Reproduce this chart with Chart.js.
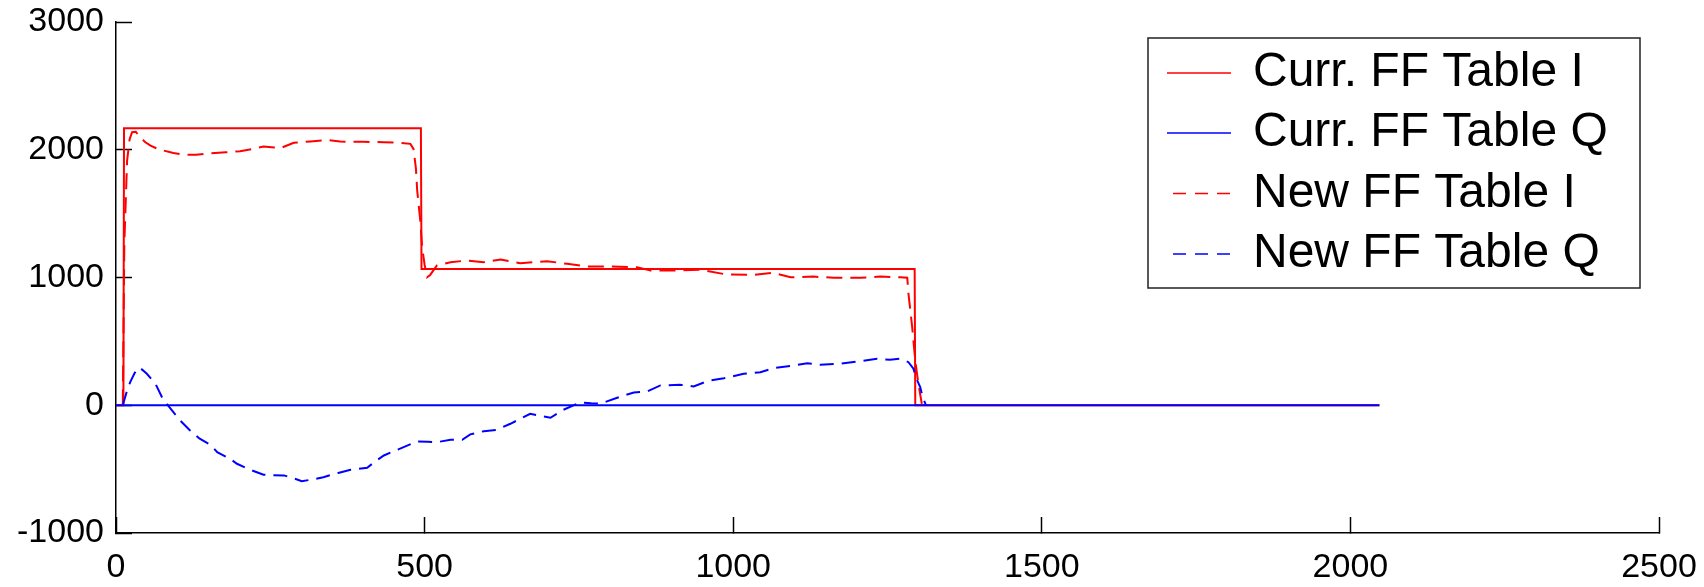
<!DOCTYPE html>
<html>
<head>
<meta charset="utf-8">
<title>FF Table</title>
<script src="https://cdn.jsdelivr.net/npm/chart.js@4.4.1/dist/chart.umd.min.js"></script>
<style>
  html, body { margin: 0; padding: 0; background: #fff; }
  #wrap { width: 1704px; height: 587px; }
</style>
</head>
<body>
<div id="wrap"><canvas id="ffChart"></canvas></div>
<script>
// tick labels
const xTicks = [0, 500, 1000, 1500, 2000, 2500];
const yTicks = [-1000, 0, 1000, 2000, 3000];

const seriesLabels = ["Curr. FF Table I", "Curr. FF Table Q", "New FF Table I", "New FF Table Q"];

// Curr. FF Table I (solid red)
const currIX = [0, 12, 13, 494, 495, 1294, 1295, 2047];
const currIY = [0, 0, 2168, 2168, 1066, 1066, 0, 0];

// Curr. FF Table Q (solid blue)
const currQX = [0, 2047];
const currQY = [0, 0];

// New FF Table I (dashed red)
const newIX = [11, 13.5, 18, 22, 26, 32, 39, 47, 56, 66, 77, 93, 110, 130, 153, 178, 201, 220, 239, 252,
  266, 288, 315, 342, 363, 400, 434, 460, 477, 482, 486, 488, 493, 496, 500, 504, 509, 520, 542, 569,
  596, 623, 655, 698, 731, 763, 801, 844, 866, 903, 947, 990, 1033, 1065, 1093, 1130, 1163, 1206, 1238,
  1271, 1282, 1284, 1290, 1295, 1300, 1306, 1310];
const newIY = [0, 1266, 1915, 2080, 2137, 2140, 2103, 2060, 2033, 2010, 1994, 1975, 1962, 1960, 1973, 1980, 1988, 2005, 2025, 2020,
  2012, 2054, 2065, 2077, 2064, 2062, 2059, 2055, 2046, 2007, 1850, 1681, 1446, 1237, 1100, 1002, 1020, 1094, 1120, 1133,
  1120, 1141, 1112, 1128, 1107, 1086, 1086, 1081, 1055, 1055, 1060, 1023, 1020, 1037, 1002, 1007, 998, 998, 1007,
  1002, 998, 872, 611, 350, 168, 0, 0];

// New FF Table Q (dashed blue)
const newQX = [11, 17, 23, 30, 35, 42, 50, 64, 77, 82, 93, 104, 120, 135, 153, 164, 185, 196, 215, 239,
  255, 272, 290, 301, 320, 336, 360, 380, 407, 420, 434, 450, 466, 488, 505, 520, 542, 561, 574, 596,
  617, 639, 671, 704, 725, 752, 770, 785, 812, 839, 860, 882, 914, 936, 958, 985, 1017, 1044, 1065, 1098,
  1120, 1141, 1174, 1206, 1233, 1254, 1271, 1284, 1292, 1297, 1303, 1307, 1311, 1312];
const newQY = [0, 100, 181, 250, 293, 280, 246, 168, 38, 12, -54, -119, -197, -260, -310, -367, -420, -458, -500, -544,
  -548, -549, -575, -594, -580, -563, -530, -505, -489, -440, -393, -360, -328, -283, -285, -289, -270, -270, -228, -203,
  -192, -145, -67, -98, -35, 22, 15, 12, 59, 100, 107, 155, 160, 147, 189, 212, 246, 259, 290, 311,
  329, 317, 325, 345, 364, 356, 364, 337, 286, 207, 142, 63, 16, 0];

const toPoints = (xs, ys) => xs.map((x, i) => ({ x: x, y: ys[i] }));

const FONT = "'Liberation Sans', Arial, Helvetica, sans-serif";

// boxed legend in the upper right, like the original figure
const boxLegend = {
  id: "boxLegend",
  afterDraw(chart) {
    const ctx = chart.ctx;
    const left = 1148, top = 38, w = 492, h = 250;
    const rows = [35, 95, 155.5, 216];
    ctx.save();
    ctx.fillStyle = "#fff";
    ctx.fillRect(left, top, w, h);
    ctx.strokeStyle = "#222";
    ctx.lineWidth = 1.5;
    ctx.setLineDash([]);
    ctx.strokeRect(left, top, w, h);
    chart.data.datasets.forEach((ds, i) => {
      const y = top + rows[i];
      ctx.beginPath();
      ctx.strokeStyle = ds.borderColor;
      ctx.lineWidth = 1.5;
      ctx.setLineDash(ds.borderDash ? [13, 9] : []);
      const x0 = ds.borderDash ? left + 25 : left + 19;
      ctx.moveTo(x0, y);
      ctx.lineTo(left + 83, y);
      ctx.stroke();
      ctx.setLineDash([]);
      ctx.fillStyle = "#000";
      ctx.font = "48px " + FONT;
      ctx.textBaseline = "middle";
      ctx.textAlign = "left";
      ctx.fillText(ds.label, left + 105, y);
    });
    ctx.restore();
  }
};

const ctx = document.getElementById("ffChart").getContext("2d");
window.ffChart = new Chart(ctx, {
  type: "line",
  data: {
    datasets: [
      {
        label: seriesLabels[0],
        data: toPoints(currIX, currIY),
        borderColor: "#ff0000",
        borderWidth: 2,
        order: 4,
      },
      {
        label: seriesLabels[1],
        data: toPoints(currQX, currQY),
        borderColor: "#0000ff",
        borderWidth: 2,
        order: 3,
      },
      {
        label: seriesLabels[2],
        data: toPoints(newIX, newIY),
        borderColor: "#ff0000",
        borderWidth: 2,
        borderDash: [16, 8],
        order: 2,
      },
      {
        label: seriesLabels[3],
        data: toPoints(newQX, newQY),
        borderColor: "#0000ff",
        borderWidth: 2,
        borderDash: [14, 8],
        order: 1,
      },
    ],
  },
  options: {
    responsive: true,
    maintainAspectRatio: false,
    animation: false,
    parsing: false,
    elements: {
      point: { radius: 0, hoverRadius: 0 },
      line: { tension: 0, fill: false },
    },
    layout: { padding: { top: 22, right: 45, left: 0, bottom: 0 } },
    plugins: {
      legend: { display: false },
      tooltip: { enabled: false },
    },
    scales: {
      x: {
        type: "linear",
        min: xTicks[0],
        max: xTicks[xTicks.length - 1],
        afterBuildTicks: (s) => { s.ticks = xTicks.map((v) => ({ value: v })); },
        ticks: {
          color: "#000",
          font: { family: FONT, size: 34 },
          padding: 30,
          maxRotation: 0,
          autoSkip: false,
          callback: (v) => String(v),
        },
        grid: { drawOnChartArea: false, tickLength: -16, color: "#000", tickWidth: 1.5 },
        border: { color: "#000", width: 1.5 },
        afterFit: (s) => {
          s.height = 54;
          s.paddingLeft = 0;
          s.paddingRight = 0;
        },
      },
      y: {
        type: "linear",
        min: yTicks[0],
        max: yTicks[yTicks.length - 1],
        afterBuildTicks: (s) => { s.ticks = yTicks.map((v) => ({ value: v })); },
        ticks: {
          color: "#000",
          font: { family: FONT, size: 34 },
          padding: 28,
          autoSkip: false,
          callback: (v) => String(v),
        },
        grid: { drawOnChartArea: false, tickLength: -16, color: "#000", tickWidth: 1.5 },
        border: { color: "#000", width: 1.5 },
        afterFit: (s) => {
          s.width = 116;
          s.paddingTop = 0;
          s.paddingBottom = 0;
        },
      },
    },
  },
  plugins: [boxLegend],
});
</script>
</body>
</html>
